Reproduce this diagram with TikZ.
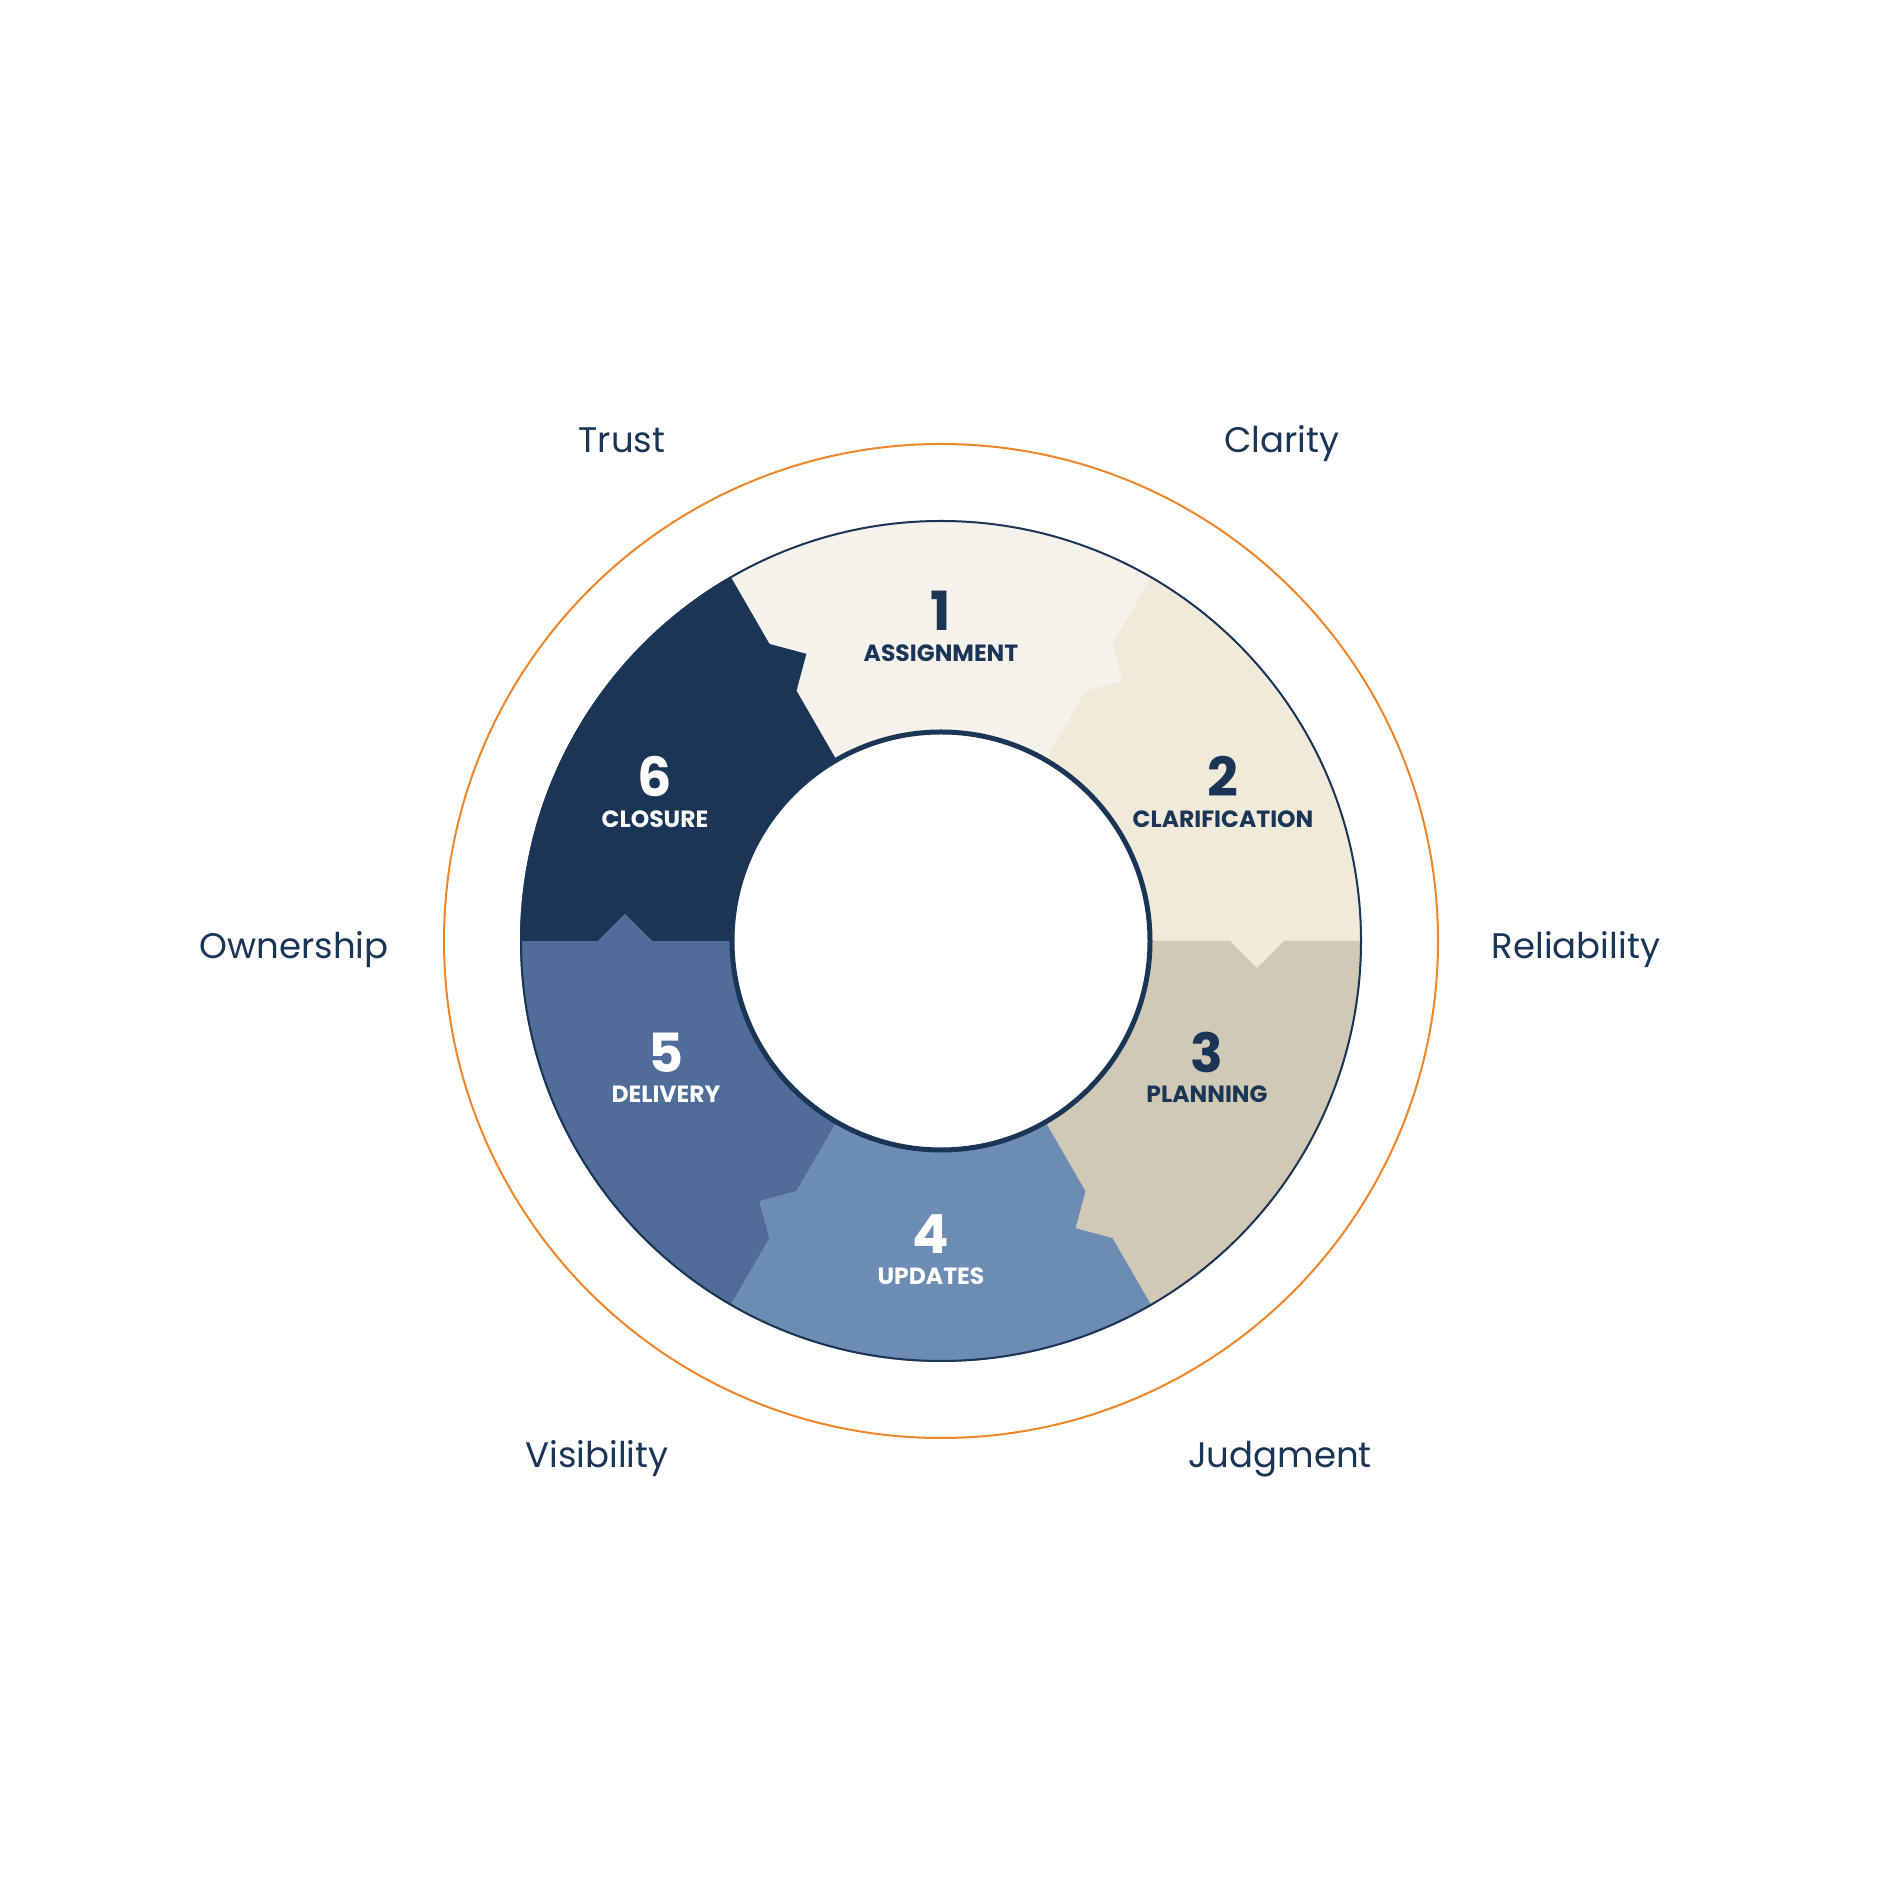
\documentclass[tikz,border=0pt]{standalone}
\usepackage{fontspec}
\setmainfont{Poppins}
\definecolor{segA}{HTML}{F4F2EB}
\definecolor{segB}{HTML}{F0EADB}
\definecolor{segC}{HTML}{CFC9B6}
\definecolor{segD}{HTML}{6D8CB4}
\definecolor{segE}{HTML}{4F6D98}
\definecolor{segF}{HTML}{1B3557}
\definecolor{navy}{HTML}{1B3557}
\definecolor{ring}{HTML}{F0862A}
\begin{document}
\begin{tikzpicture}[x=1pt,y=1pt,
  numtxt/.style={anchor=base,font=\fontsize{54}{56}\selectfont\bfseries,inner sep=0pt},
  labtxt/.style={anchor=base,font=\fontsize{23.5}{25}\selectfont\bfseries,inner sep=0pt},
  outtxt/.style={anchor=base,font=\fontsize{35.5}{38}\selectfont,text=navy,inner sep=0pt}]
\useasboundingbox[fill=white] (0,0) rectangle (1882,1882);
\coordinate (c) at (941,941);
\begin{scope}[shift={(941,941)}]
\foreach \s/\col in {120/segA,60/segB,0/segC,-60/segD,-120/segE,180/segF}{
  \fill[\col] (\s:209) -- (\s:289) -- ([shift={(\s-90:27)}]\s:316) -- (\s:343) -- (\s:421)
    arc[start angle=\s, end angle=\s-60, radius=421]
    -- (\s-60:343) -- ([shift={(\s-150:27)}]\s-60:316) -- (\s-60:289) -- (\s-60:209)
    arc[start angle=\s-60, end angle=\s, radius=209] -- cycle;
}
\draw[navy,line width=2] (0,0) circle[radius=420];
\draw[navy,line width=5,fill=white] (0,0) circle[radius=209];
\draw[ring,line width=2] (0,0) circle[radius=497];
\end{scope}
% segment texts
\node[numtxt,text=navy] (n1) at (941,1251) {1};
\node[labtxt,text=navy] (l1) at (941,1220) {ASSIGNMENT};
\node[numtxt,text=navy] (n2) at (1223,1085) {2};
\node[labtxt,text=navy] (l2) at (1223,1054) {CLARIFICATION};
\node[numtxt,text=navy] (n3) at (1207,809) {3};
\node[labtxt,text=navy] (l3) at (1207,779) {PLANNING};
\node[numtxt,text=white] (n4) at (931,628) {4};
\node[labtxt,text=white] (l4) at (931,597) {UPDATES};
\node[numtxt,text=white] (n5) at (666,809) {5};
\node[labtxt,text=white] (l5) at (666,779) {DELIVERY};
\node[numtxt,text=white] (n6) at (655,1085) {6};
\node[labtxt,text=white] (l6) at (655,1054) {CLOSURE};
% outer labels
\node[outtxt] (o1) at (622,1429) {Trust};
\node[outtxt] (o2) at (1282,1429) {Clarity};
\node[outtxt] (o3) at (1576,923) {Reliability};
\node[outtxt] (o4) at (294,923) {Ownership};
\node[outtxt] (o5) at (597,414) {Visibility};
\node[outtxt] (o6) at (1280,414) {Judgment};
\end{tikzpicture}
\end{document}
